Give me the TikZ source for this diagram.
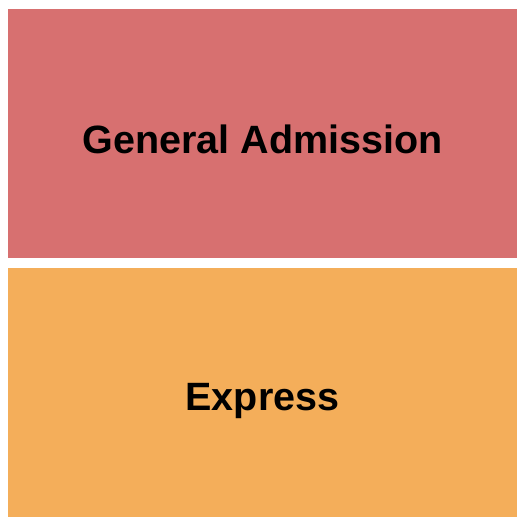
\documentclass[tikz,border=0pt]{standalone}
\usepackage{fontspec}
\setmainfont{Liberation Sans}
\definecolor{gacolor}{HTML}{D77070}
\definecolor{excolor}{HTML}{F4AE5A}
\begin{document}
\begin{tikzpicture}[x=1pt,y=-1pt,
  section/.style={draw=none},
  sectionlabel/.style={font=\fontsize{39.5}{44}\selectfont\bfseries, text=black, inner sep=0pt, anchor=base}]
\useasboundingbox (0,0) rectangle (525,525);
% sections
\fill [section, fill = gacolor] (8,9) rectangle (517,258);
\fill [section, fill = excolor] (8,268) rectangle (517,517);
% labels
\node [sectionlabel] (ga) at (262.5,153) {General Admission};
\node [sectionlabel] (express) at (262.5,410) {Express};
\end{tikzpicture}
\end{document}
